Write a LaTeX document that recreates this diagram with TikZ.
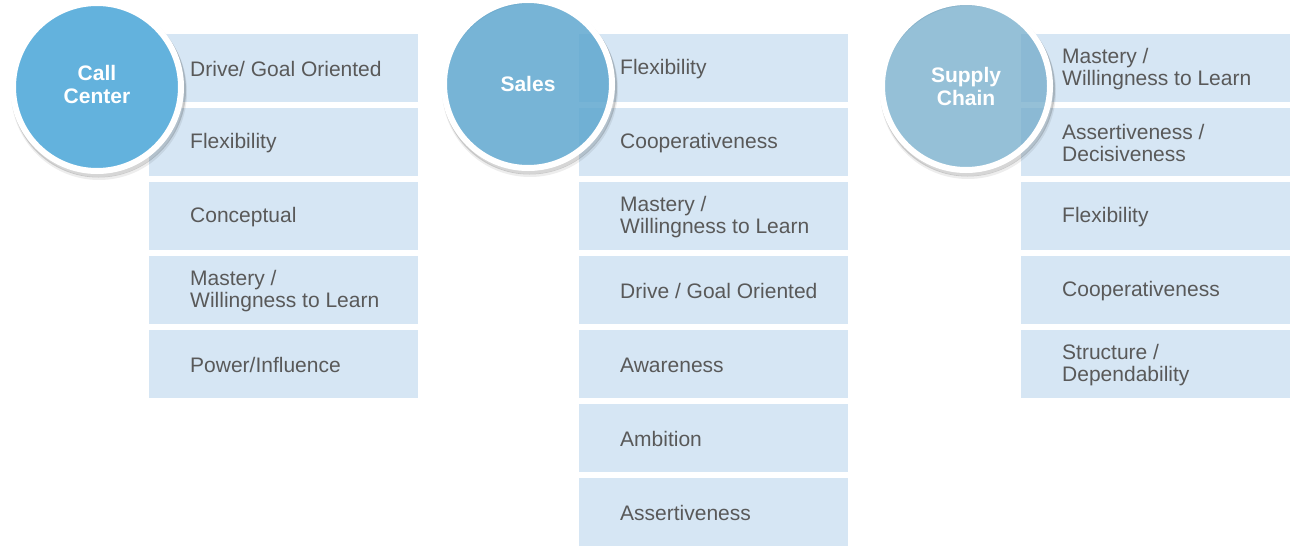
\documentclass[tikz,border=0pt]{standalone}
\usepackage{fontspec}
\setmainfont{Liberation Sans}
\usetikzlibrary{calc}

\definecolor{boxblue}{HTML}{D6E6F4}
\definecolor{skillgray}{HTML}{595959}
\definecolor{callblue}{HTML}{63B2DD}
\definecolor{salesblue}{HTML}{5FA7CF}
\definecolor{supplyblue}{HTML}{72ABCA}

\tikzset{
	skillbox/.style={rectangle, fill=boxblue, anchor=north west, minimum width=269pt, minimum height=68.5pt, inner sep=0pt},
	skilltext/.style={anchor=west, align=left, text=skillgray, inner sep=0pt, font=\fontsize{21}{22}\selectfont},
	role/.style={circle, draw=white, line width=6pt, minimum size=168pt, inner sep=0pt, align=center, text=white, text opacity=1, font=\fontsize{21}{23}\selectfont\bfseries},
	ringshade/.style={draw=black, line width=4pt, opacity=.16}
}

\begin{document}
\begin{tikzpicture}[x=1pt, y=-1pt]
		%%%%% START %%%%%
		\useasboundingbox (0,0) rectangle (1293,546);
		
		% skill columns
		\foreach \t [count=\i] in {{Drive/ Goal Oriented}, Flexibility, Conceptual, {Mastery /\\Willingness to Learn}, Power/Influence}{
			\node[skillbox] (cc\i) at (149,{33.5+74*(\i-1)}) {};
			\node[skilltext] (cc\i t) at ([shift={(41pt,-1.5pt)}]cc\i.west) {\t};
		}
		\foreach \t [count=\i] in {Flexibility, Cooperativeness, {Mastery /\\Willingness to Learn}, {Drive / Goal Oriented}, Awareness, Ambition, Assertiveness}{
			\node[skillbox] (sa\i) at (579,{33.5+74*(\i-1)}) {};
			\node[skilltext] (sa\i t) at ([shift={(41pt,-1.5pt)}]sa\i.west) {\t};
		}
		\foreach \t [count=\i] in {{Mastery /\\Willingness to Learn}, {Assertiveness /\\Decisiveness}, Flexibility, Cooperativeness, {Structure /\\Dependability}}{
			\node[skillbox] (sc\i) at (1021,{33.5+74*(\i-1)}) {};
			\node[skilltext] (sc\i t) at ([shift={(41pt,-1.5pt)}]sc\i.west) {\t};
		}
		
		% role circles
		\coordinate (callc) at (97,87);
		\coordinate (salesc) at (528,84);
		\coordinate (supplyc) at (966,86);
		
		\foreach \c in {callc, salesc, supplyc}{
			\draw[ringshade] ([shift={(1.5pt,-3pt)}]\c) circle (85.5pt);
			\draw[ringshade, opacity=.07, line width=3pt] ([shift={(2pt,-5pt)}]\c) circle (86.5pt);
		}
		
		\node[role, fill=callblue] (call) at (callc) {\raisebox{1pt}{\begin{tabular}{@{}c@{}}Call\\Center\end{tabular}}};
		\node[role, fill=salesblue, fill opacity=.85] (sales) at (salesc) {Sales};
		\node[role, fill=supplyblue, fill opacity=.75] (supply) at (supplyc) {Supply\\Chain};
		
		%%%%% END %%%%%
	\end{tikzpicture}
\end{document}
